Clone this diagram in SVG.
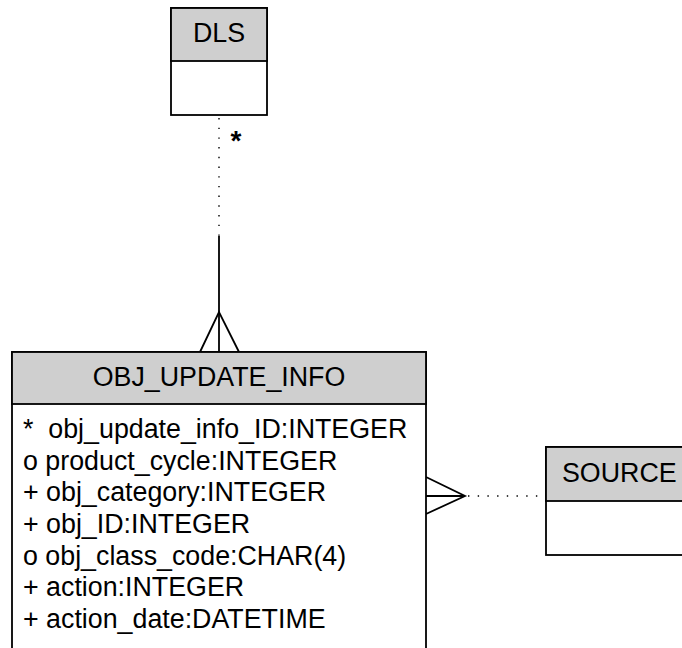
<svg xmlns="http://www.w3.org/2000/svg" width="682" height="648" viewBox="0 0 682 648">
<style>
.box{fill:#fff;stroke:#000;stroke-width:1.8}
.hdr{fill:#cfcfcf;stroke:#000;stroke-width:1.8}
.t{font-family:"Liberation Sans",Arial,sans-serif;font-size:26.8px;fill:#000}
.c{text-anchor:middle}
.ln{stroke:#000;stroke-width:1.8;fill:none}
.dot{stroke:#000;stroke-width:1.4;stroke-dasharray:1.4 8.3;fill:none}
</style>
<rect width="682" height="648" fill="#fff"/>
<g id="connectors">
<line class="dot" x1="219" y1="118" x2="219" y2="236"/>
<line class="ln" x1="219" y1="236" x2="219" y2="352"/>
<polyline class="ln" points="200,352 219,312 239,352"/>
<text x="236" y="150" font-family="Liberation Sans,Arial,sans-serif" font-size="28" font-weight="bold" text-anchor="middle">*</text>
<line class="dot" x1="468" y1="496" x2="546" y2="496"/>
<line class="ln" x1="426" y1="496" x2="465" y2="496"/>
<polyline class="ln" points="426,477 465,496 426,514"/>
</g>
<g id="DLS">
<rect class="box" x="171" y="8" width="96" height="107"/>
<rect class="hdr" x="171" y="8" width="96" height="53"/>
<text class="t c" x="219" y="42">DLS</text>
</g>
<g id="OBJ_UPDATE_INFO">
<rect class="box" x="12" y="352" width="414" height="310"/>
<rect class="hdr" x="12" y="352" width="414" height="52"/>
<text class="t c" x="219" y="386">OBJ_UPDATE_INFO</text>
<text class="t" x="23" y="438" xml:space="preserve">*  obj_update_info_ID:INTEGER</text>
<text class="t" x="23" y="469.7">o product_cycle:INTEGER</text>
<text class="t" x="23" y="501.3">+ obj_category:INTEGER</text>
<text class="t" x="23" y="533">+ obj_ID:INTEGER</text>
<text class="t" x="23" y="564.7">o obj_class_code:CHAR(4)</text>
<text class="t" x="23" y="596.3">+ action:INTEGER</text>
<text class="t" x="23" y="628">+ action_date:DATETIME</text>
</g>
<g id="SOURCE">
<rect class="box" x="546" y="447" width="150" height="108"/>
<rect class="hdr" x="546" y="447" width="150" height="54"/>
<text class="t" x="562" y="482">SOURCE</text>
</g>
</svg>
